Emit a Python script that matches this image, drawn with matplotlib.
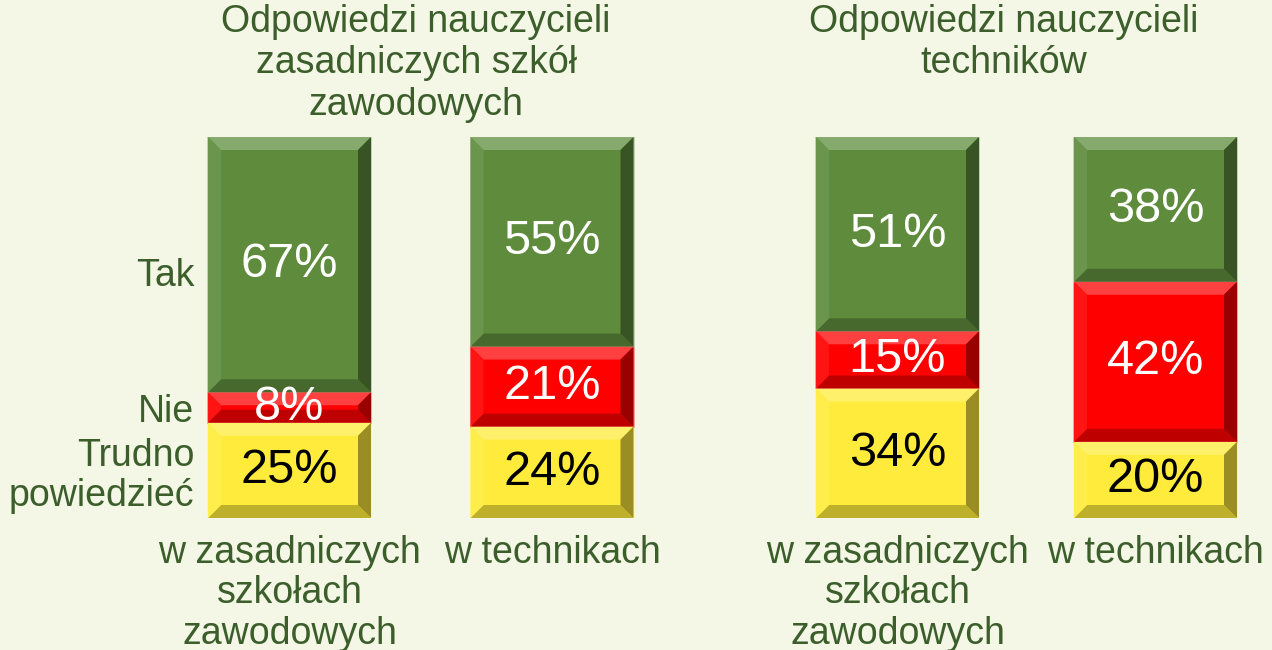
import numpy as np
import matplotlib.pyplot as plt
from matplotlib.patches import Polygon, Rectangle
from matplotlib.colors import to_rgb

plt.rcParams['font.family'] = ['Liberation Sans', 'DejaVu Sans']

groups = ["Odpowiedzi nauczycieli\nzasadniczych szkół\nzawodowych",
          "Odpowiedzi nauczycieli\ntechników"]
categories = ["w zasadniczych\nszkołach\nzawodowych", "w technikach"]
answers = ["Trudno\npowiedzieć", "Nie", "Tak"]

# [trudno, nie, tak] per bar
values = {
    groups[0]: [[25, 8, 67], [24, 21, 55]],
    groups[1]: [[34, 15, 51], [20, 42, 38]],
}

colors = ["#FFEB3B", "#FF0000", "#5E8C3C"]
text_colors = ["black", "white", "white"]
bg = "#F4F6E6"
dark_green = "#3B5E2B"


def mix(c, other, t):
    c = np.array(to_rgb(c))
    o = np.array(to_rgb(other))
    return tuple(c * (1 - t) + o * t)


def bevel_bar(ax, x, bottom, height, width, color, px_x, px_y):
    b = 13
    bx = b / px_x
    by = min(b / px_y, height / 2 - 0.3)
    x0, x1 = x - width / 2, x + width / 2
    y0, y1 = bottom, bottom + height
    ax.add_patch(Rectangle((x0, y0), width, height, facecolor=color,
                           edgecolor=mix(color, "white", 0.55), lw=1.2, zorder=2))
    polys = [
        ([(x0, y1), (x1, y1), (x1 - bx, y1 - by), (x0 + bx, y1 - by)], mix(color, "white", 0.25)),
        ([(x0, y0), (x1, y0), (x1 - bx, y0 + by), (x0 + bx, y0 + by)], mix(color, "black", 0.25)),
        ([(x0, y0), (x0, y1), (x0 + bx, y1 - by), (x0 + bx, y0 + by)], mix(color, "white", 0.08)),
        ([(x1, y0), (x1, y1), (x1 - bx, y1 - by), (x1 - bx, y0 + by)], mix(color, "black", 0.4)),
    ]
    for pts, c in polys:
        ax.add_patch(Polygon(pts, closed=True, facecolor=c, edgecolor="none", zorder=3))


fig = plt.figure(figsize=(12.72, 6.5), dpi=100)
fig.patch.set_facecolor(bg)

W, H = 1272, 650
axes_px = [(158.25, 525.0), (768.5, 516.0)]
bar_bottom_px, bar_height_px = 132, 381
title_x = [416, 1004]

for gi, g in enumerate(groups):
    left, width_px = axes_px[gi]
    ax = fig.add_axes([left / W, bar_bottom_px / H, width_px / W, bar_height_px / H])
    ax.set_facecolor(bg)
    ax.set_xlim(-0.5, 1.5)
    ax.set_ylim(0, 100)
    for s in ax.spines.values():
        s.set_visible(False)
    px_x = width_px / 2
    px_y = bar_height_px / 100
    bw = 163 / px_x
    for bi, vals in enumerate(values[g]):
        bottom = 0
        for si, v in enumerate(vals):
            bevel_bar(ax, bi, bottom, v, bw, colors[si], px_x, px_y)
            ax.text(bi, bottom + v / 2, f"{v}%", ha="center", va="center",
                    fontsize=35, color=text_colors[si], zorder=5)
            bottom += v
    ax.set_xticks([0, 1])
    ax.set_xticklabels(categories, fontsize=27, color=dark_green, linespacing=1.17)
    ax.tick_params(axis="x", length=0, pad=12)
    if gi == 0:
        first = values[g][0]
        mids = np.cumsum(first) - np.array(first) / 2
        mids[2] -= 2
        ax.set_yticks(mids)
        ax.set_yticklabels(answers, fontsize=27, color=dark_green, linespacing=1.12)
        ax.tick_params(axis="y", length=0, pad=-26)
    else:
        ax.set_yticks([])
    fig.text(title_x[gi] / W, 1 - 4 / H, g, ha="center", va="top",
             fontsize=27, color=dark_green, linespacing=1.19)

fig.savefig("out.png", dpi=100, facecolor=bg)
